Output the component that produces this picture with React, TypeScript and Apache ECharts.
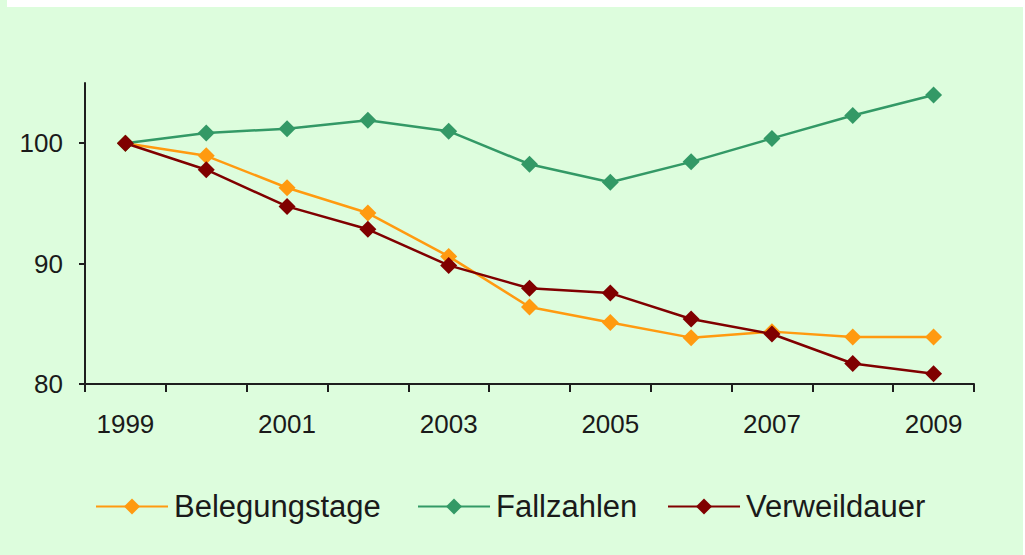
import React, { useEffect, useRef } from "react";
import * as echarts from "echarts";

const categories = ["1999", "2000", "2001", "2002", "2003", "2004", "2005", "2006", "2007", "2008", "2009"];
const belegungstage = [100, 98.95, 96.3, 94.2, 90.6, 86.4, 85.1, 83.85, 84.35, 83.9, 83.9];
const fallzahlen = [100, 100.85, 101.2, 101.9, 101.0, 98.25, 96.75, 98.45, 100.4, 102.3, 104.0];
const verweildauer = [100, 97.8, 94.75, 92.85, 89.85, 87.95, 87.55, 85.4, 84.15, 81.7, 80.85];
const yTicks = [80, 90, 100];

const seriesNames = ["Belegungstage", "Fallzahlen", "Verweildauer"];
const seriesColors = ["#ff9a10", "#339966", "#800000"];

export default function App() {
  const ref = useRef<HTMLDivElement>(null);
  useEffect(() => {
    if (!ref.current) return;
    const chart = echarts.init(ref.current, null, { renderer: "svg" });
    const font = "'Liberation Sans', Arial, sans-serif";
    const axisColor = "#1e1e1e";
    const dataSets = [belegungstage, fallzahlen, verweildauer];
    const legendLefts = [95, 417, 667];
    chart.setOption({
      animation: false,
      backgroundColor: "transparent",
      grid: { left: 85, right: 51, top: 83, bottom: 171, containLabel: false },
      legend: seriesNames.map((n, i) => ({
        data: [n],
        left: legendLefts[i],
        top: 491,
        padding: 0,
        itemWidth: 72,
        itemHeight: 20,
        itemGap: 0,
        textStyle: { fontFamily: font, fontSize: 31, color: "#1a1a1a", padding: [0, 0, 0, 1] },
      })),
      xAxis: {
        type: "category",
        data: categories,
        boundaryGap: true,
        axisLine: { lineStyle: { color: axisColor, width: 2 } },
        axisTick: { show: true, length: 8, alignWithLabel: false, interval: 0, lineStyle: { color: axisColor, width: 2 } },
        axisLabel: { interval: 1, margin: 27, fontFamily: font, fontSize: 26, color: "#1a1a1a" },
        splitLine: { show: false },
      },
      yAxis: {
        type: "value",
        min: 80,
        max: 105,
        interval: 10,
        axisLine: { show: true, lineStyle: { color: axisColor, width: 2 } },
        axisTick: { show: true, length: 6, customValues: yTicks, lineStyle: { color: axisColor, width: 2 } },
        axisLabel: { customValues: yTicks, margin: 22, fontFamily: font, fontSize: 26, color: "#1a1a1a" },
        splitLine: { show: false },
      },
      series: seriesNames.map((n, i) => ({
        name: n,
        type: "line",
        data: dataSets[i],
        symbol: "diamond",
        symbolSize: 17,
        color: seriesColors[i],
        lineStyle: { color: seriesColors[i], width: 2.5 },
        itemStyle: { color: seriesColors[i] },
        z: i === 2 ? 3 : 2,
      })),
    });
    return () => chart.dispose();
  }, []);
  return (
    <div style={{ position: "fixed", left: 0, top: 0, width: 1025, height: 555, background: "#ffffff" }}>
      <div style={{ position: "absolute", left: 0, top: 7, width: 1023, height: 548, background: "#ddfddd" }} />
      <div style={{ position: "absolute", left: 0, top: 0, width: 7, height: 7, background: "#ddfddd" }} />
      <div ref={ref} style={{ position: "absolute", left: 0, top: 0, width: 1025, height: 555 }} />
    </div>
  );
}
